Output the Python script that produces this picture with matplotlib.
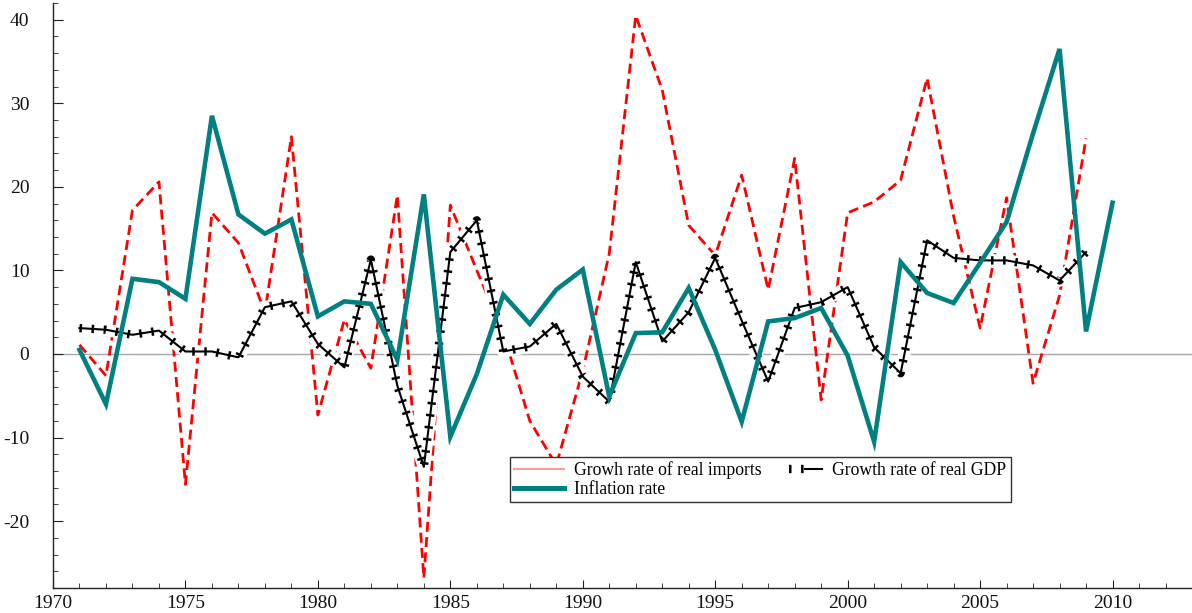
import matplotlib
matplotlib.use("Agg")
import matplotlib.pyplot as plt
from matplotlib.lines import Line2D
from matplotlib.legend_handler import HandlerTuple
from matplotlib.ticker import MultipleLocator

plt.rcParams["font.family"] = ["Liberation Serif", "DejaVu Serif"]
plt.rcParams["axes.unicode_minus"] = False

years_imports = list(range(1971, 2010))
imports_growth = [1.1, -2.6, 17.2, 20.6, -15.6, 16.9, 13.3, 5.0, 26.0, -7.3,
                  4.1, -1.7, 19.0, -26.8, 17.8, 10.0, 2.5, -8.0, -13.3, -2.0,
                  12.0, 40.5, 31.6, 15.4, 11.8, 21.4, 7.7, 23.4, -5.5, 16.9,
                  18.2, 20.8, 33.0, 16.5, 3.1, 18.7, -3.5, 7.0, 25.8]

years_gdp = list(range(1971, 2010))
gdp_growth = [3.1, 2.9, 2.3, 2.8, 0.3, 0.3, -0.4, 5.6, 6.3, 1.2,
              -1.6, 11.3, -3.8, -13.5, 12.2, 16.0, 0.3, 0.9, 3.6, -2.7,
              -5.7, 11.0, 1.5, 5.0, 11.5, 4.0, -3.3, 5.5, 6.2, 8.0,
              0.8, -2.3, 13.6, 11.5, 11.2, 11.2, 10.6, 8.8, 12.2]

years_inflation = list(range(1971, 2011))
inflation = [0.5, -6.0, 9.0, 8.6, 6.6, 28.5, 16.7, 14.4, 16.1, 4.5,
             6.3, 6.0, -0.7, 19.1, -9.9, -2.4, 7.1, 3.6, 7.7, 10.1,
             -5.1, 2.5, 2.6, 7.9, 0.5, -8.1, 3.9, 4.3, 5.5, -0.2,
             -10.5, 11.0, 7.3, 6.1, 10.9, 15.8, 26.4, 36.5, 2.7, 18.1]

label_imports = "Growh rate of real imports"
label_gdp = "Growth rate of real GDP"
label_inflation = "Inflation rate"

fig = plt.figure(figsize=(11.92, 6.13), dpi=100)
ax = fig.add_axes([53 / 1192, 25 / 613, 1139 / 1192, 585 / 613])

ax.axhline(0, color="#a8a8a8", lw=1.0, zorder=1)

# imports: red dashed
ax.plot(years_imports, imports_growth, color="red", lw=2.0,
        dashes=(3.6, 1.9), zorder=2)

# GDP: ticked line with a white halo
gdp_halo = dict(color="white", lw=9.0, solid_capstyle="butt")
gdp_ticks = dict(color="black", lw=6.0, dashes=(0.3, 1.15),
                 dash_capstyle="butt")
gdp_core = dict(color="black", lw=1.5)
ax.plot(years_gdp, gdp_growth, zorder=3, **gdp_halo)
ax.plot(years_gdp, gdp_growth, zorder=3.1, **gdp_ticks)
ax.plot(years_gdp, gdp_growth, zorder=3.2, **gdp_core)

# inflation: thick teal line
ax.plot(years_inflation, inflation, color="#008080", lw=3.3, zorder=4,
        solid_joinstyle="miter")

ax.set_xlim(1970, 2013)
ax.set_ylim(-28, 42)
ax.xaxis.set_major_locator(MultipleLocator(5))
ax.xaxis.set_minor_locator(MultipleLocator(1))
ax.yaxis.set_major_locator(MultipleLocator(10))
ax.yaxis.set_minor_locator(MultipleLocator(2))

for side in ("top", "right"):
    ax.spines[side].set_visible(False)
for side in ("left", "bottom"):
    ax.spines[side].set_color("#222222")
    ax.spines[side].set_linewidth(1.0)

ax.tick_params(axis="both", which="both", direction="in", colors="#222222",
               labelsize=14, labelcolor="#111111")
ax.tick_params(axis="y", which="major", length=7, pad=17)
ax.tick_params(axis="y", which="minor", length=3.5)
ax.tick_params(axis="x", which="major", length=6, pad=5)
ax.tick_params(axis="x", which="minor", length=3.5)

h_imports = Line2D([], [], color="#ff9a9a", lw=1.5)
h_gdp = (Line2D([], [], **gdp_halo), Line2D([], [], **gdp_ticks),
         Line2D([], [], **gdp_core))
h_inflation = Line2D([], [], color="#008080", lw=3.6)

leg = ax.legend([h_imports, h_inflation, h_gdp],
                [label_imports, label_inflation, label_gdp],
                handler_map={tuple: HandlerTuple(ndivide=None, pad=0)},
                ncol=2, loc="upper left", bbox_to_anchor=(0.401, 0.224),
                fontsize=12.7, frameon=True, fancybox=False, framealpha=1,
                edgecolor="#333333", borderpad=0.25, labelspacing=0.1,
                handlelength=2.8, handletextpad=0.6, columnspacing=0.6,
                borderaxespad=0)
leg.get_frame().set_linewidth(1.0)

fig.savefig("out.png", dpi=100)
